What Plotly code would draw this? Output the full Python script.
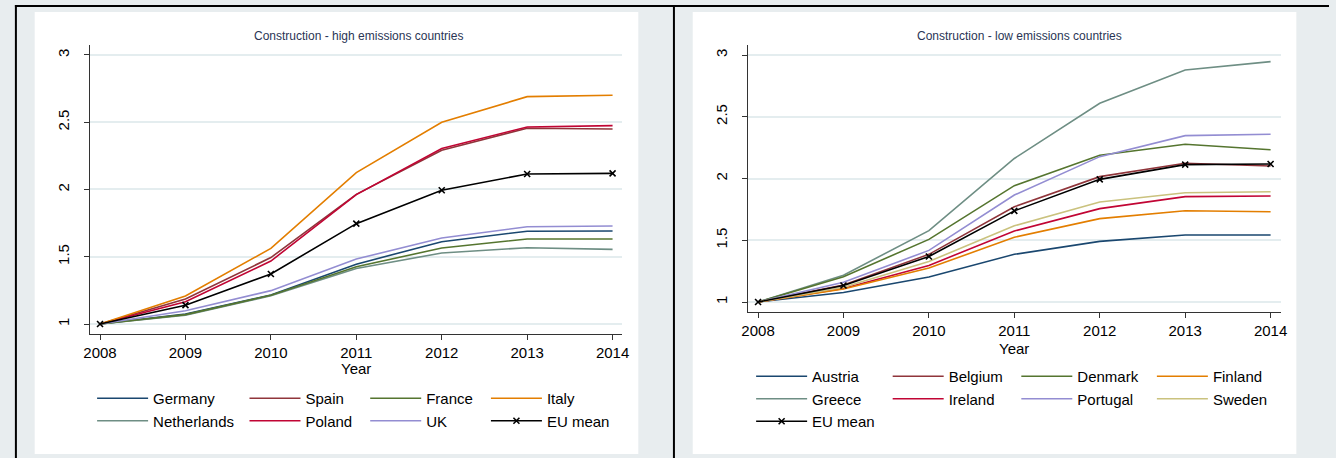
import plotly.graph_objects as go

W, H = 1336, 458

years = [2008, 2009, 2010, 2011, 2012, 2013, 2014]

# High emissions countries (index, 2008 = 1)
germany = [1.0, 1.074, 1.216, 1.445, 1.612, 1.690, 1.691]
spain = [1.0, 1.186, 1.494, 1.964, 2.292, 2.455, 2.450]
france = [1.0, 1.070, 1.214, 1.425, 1.565, 1.632, 1.632]
italy = [1.0, 1.208, 1.562, 2.125, 2.500, 2.690, 2.700]
netherlands = [1.0, 1.066, 1.210, 1.412, 1.528, 1.567, 1.555]
poland = [1.0, 1.166, 1.468, 1.962, 2.305, 2.465, 2.475]
uk = [1.0, 1.099, 1.248, 1.483, 1.639, 1.723, 1.729]
eu_mean_high = [1.0, 1.140, 1.372, 1.746, 1.994, 2.115, 2.120]

# Low emissions countries (index, 2008 = 1)
austria = [1.0, 1.077, 1.202, 1.386, 1.491, 1.543, 1.543]
belgium = [1.0, 1.138, 1.386, 1.771, 2.015, 2.123, 2.101]
denmark = [1.0, 1.205, 1.507, 1.942, 2.188, 2.277, 2.233]
finland = [1.0, 1.105, 1.275, 1.524, 1.675, 1.739, 1.731]
greece = [1.0, 1.217, 1.578, 2.162, 2.609, 2.879, 2.946]
ireland = [1.0, 1.110, 1.296, 1.575, 1.756, 1.853, 1.858]
portugal = [1.0, 1.160, 1.418, 1.866, 2.177, 2.347, 2.358]
sweden = [1.0, 1.120, 1.328, 1.617, 1.810, 1.885, 1.893]
eu_mean_low = [1.0, 1.134, 1.368, 1.738, 1.993, 2.112, 2.117]

y_ticks = [1, 1.5, 2, 2.5, 3]
y_ticktext = ["1", "1.5", "2", "2.5", "3"]

# Stata s2color palette
NAVY = "#1a476f"
MAROON = "#90353b"
FOREST = "#55752f"
DKORANGE = "#e37e00"
TEAL = "#6e8e84"
CRANBERRY = "#c10534"
LAVENDER = "#938dd2"
KHAKI = "#cac27e"

FONT = "Liberation Sans, Arial, Helvetica, sans-serif"
LW = 1.6


def px_x(p):
    return p / W


def px_y(p):
    return 1 - p / H


fig = go.Figure()

# (name, values, colour, legend id) for each panel
high_series = [
    ("Germany", germany, NAVY, "legend"),
    ("Netherlands", netherlands, TEAL, "legend"),
    ("Spain", spain, MAROON, "legend2"),
    ("Poland", poland, CRANBERRY, "legend2"),
    ("France", france, FOREST, "legend3"),
    ("UK", uk, LAVENDER, "legend3"),
    ("Italy", italy, DKORANGE, "legend4"),
]
low_series = [
    ("Austria", austria, NAVY, "legend5"),
    ("Greece", greece, TEAL, "legend5"),
    ("Belgium", belgium, MAROON, "legend6"),
    ("Ireland", ireland, CRANBERRY, "legend6"),
    ("Denmark", denmark, FOREST, "legend7"),
    ("Portugal", portugal, LAVENDER, "legend7"),
    ("Finland", finland, DKORANGE, "legend8"),
    ("Sweden", sweden, KHAKI, "legend8"),
]

eu_marker = dict(symbol="x-thin", size=6, line=dict(color="black", width=1.6))

for name, vals, col, lg in high_series:
    fig.add_trace(go.Scatter(
        x=years, y=vals, name=name, mode="lines",
        line=dict(color=col, width=LW), xaxis="x", yaxis="y", legend=lg,
    ))
fig.add_trace(go.Scatter(
    x=years, y=eu_mean_high, name="EU mean", mode="lines+markers",
    line=dict(color="black", width=LW), marker=eu_marker,
    xaxis="x", yaxis="y", legend="legend4",
))

for name, vals, col, lg in low_series:
    fig.add_trace(go.Scatter(
        x=years, y=vals, name=name, mode="lines",
        line=dict(color=col, width=LW), xaxis="x2", yaxis="y2", legend=lg,
    ))
fig.add_trace(go.Scatter(
    x=years, y=eu_mean_low, name="EU mean", mode="lines+markers",
    line=dict(color="black", width=LW), marker=eu_marker,
    xaxis="x2", yaxis="y2", legend="legend5",
))

axis_common = dict(
    showline=True, linecolor="#333333", linewidth=1,
    ticks="outside", ticklen=5, tickwidth=1, tickcolor="#333333",
    tickfont=dict(family=FONT, size=15, color="black"),
    zeroline=False,
)

x_common = dict(
    axis_common, range=[2007.884, 2014.116], tickvals=years,
    showgrid=False, ticklabelstandoff=0,
)
y_common = dict(
    axis_common, tickvals=y_ticks, ticktext=y_ticktext, tickangle=-90,
    showgrid=True, gridcolor="#e4edef", gridwidth=1.5, ticklabelstandoff=9,
)

layout = dict(
    width=W, height=H,
    margin=dict(l=0, r=0, t=0, b=0),
    paper_bgcolor="#e8edef",
    plot_bgcolor="white",
    font=dict(family=FONT, size=15, color="black"),
    xaxis=dict(x_common, domain=[px_x(84), px_x(622)], anchor="y"),
    yaxis=dict(y_common, domain=[px_y(334), px_y(45)], range=[0.9257, 3.074], anchor="x"),
    xaxis2=dict(x_common, domain=[px_x(749), px_x(1287)], anchor="y2"),
    yaxis2=dict(y_common, domain=[px_y(312), px_y(45)], range=[0.919, 3.081], anchor="x2"),
)

# Legend columns: (legend id, left pixel of line sample, top row centre pixel)
legend_cols = [
    ("legend", 95, 399), ("legend2", 249, 399), ("legend3", 371, 399), ("legend4", 493, 399),
    ("legend5", 761, 377), ("legend6", 899, 377), ("legend7", 1029, 377), ("legend8", 1166, 377),
]
for lid, lx, ly in legend_cols:
    layout[lid] = dict(
        x=px_x(lx - 9), y=px_y(ly - 17), xanchor="left", yanchor="top",
        orientation="v", bgcolor="rgba(0,0,0,0)", borderwidth=0,
        itemwidth=51, tracegroupgap=0, traceorder="normal",
        font=dict(family=FONT, size=15, color="black"),
        itemclick=False, itemdoubleclick=False,
    )

fig.update_layout(**layout)

# Panel backgrounds and frame lines
shapes = [
    dict(type="rect", xref="paper", yref="paper", x0=px_x(28), x1=px_x(638),
         y0=px_y(454), y1=px_y(12), fillcolor="white", line=dict(width=0), layer="below"),
    dict(type="rect", xref="paper", yref="paper", x0=px_x(693), x1=px_x(1303),
         y0=px_y(454), y1=px_y(12), fillcolor="white", line=dict(width=0), layer="below"),
    dict(type="line", xref="paper", yref="paper", x0=px_x(8), x1=1,
         y0=px_y(6), y1=px_y(6), line=dict(color="black", width=2)),
    dict(type="line", xref="paper", yref="paper", x0=px_x(9), x1=px_x(9),
         y0=px_y(5), y1=0, line=dict(color="black", width=2)),
    dict(type="line", xref="paper", yref="paper", x0=px_x(674), x1=px_x(674),
         y0=px_y(5), y1=0, line=dict(color="black", width=2)),
]
fig.update_layout(shapes=shapes)

title_color = "#2a3555"
for text, cx in [("Construction - high emissions countries", 355),
                 ("Construction - low emissions countries", 1023)]:
    fig.add_annotation(
        text=text, x=px_x(cx), y=px_y(36), xref="paper", yref="paper",
        xanchor="center", yanchor="middle", showarrow=False,
        font=dict(family=FONT, size=12, color=title_color),
    )

# Axis titles
for cx, cy in [(353, 368), (1018, 348)]:
    fig.add_annotation(
        text="Year", x=px_x(cx), y=px_y(cy), xref="paper", yref="paper",
        xanchor="center", yanchor="middle", showarrow=False,
        font=dict(family=FONT, size=15, color="black"),
    )

fig.write_html("out.html")
